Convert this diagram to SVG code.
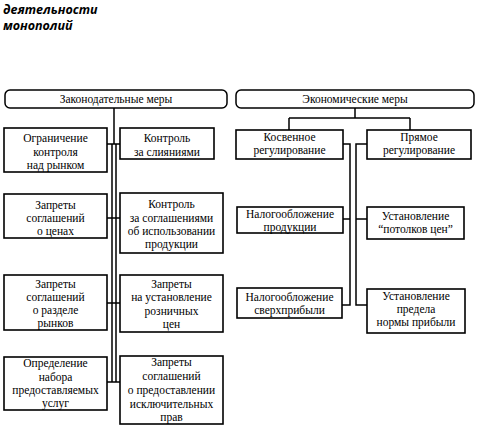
<svg xmlns="http://www.w3.org/2000/svg" width="479" height="426" viewBox="0 0 479 426">
<style>
.b{fill:#fff;stroke:#000;stroke-width:1.6}
.h{fill:#fff;stroke:#000;stroke-width:1.5}
.c{fill:none;stroke:#000;stroke-width:1.5}
.t{font-weight:bold;font-style:italic;fill:#000}
</style>
<rect width="479" height="426" fill="#fff"/>
<g id="title" font-family="'Open Sans', 'DejaVu Sans', sans-serif" font-size="12.5">
<text class="t" x="3" y="14">деятельности</text>
<text class="t" x="3" y="30">монополий</text>
</g>
<g id="connectors">
<path class="c" d="M114 108V144M112 144V382M116 144V382M107 144H120M107 218H120M107 303H120M107 382H120"/>
<path class="c" d="M355 108V118M289 118H410M289 118V130M410 118V130"/>
<path class="c" d="M343 144H350V305H342M350 219H343M367 144H356V305H367M356 219H367"/>
</g>
<g font-family="'Liberation Serif', 'Times New Roman', serif" font-size="11.5" text-anchor="middle" fill="#000">
<g id="h1"><rect class="h" x="5" y="90" width="222" height="18" rx="5"/><text x="116" y="103">Законодательные меры</text></g>
<g id="h2"><rect class="h" x="236" y="90" width="238" height="18" rx="5"/><text x="355" y="103">Экономические меры</text></g>
<g id="n1"><rect class="b" x="4" y="128" width="103" height="44"/><text x="55.5" y="142">Ограничение</text><text x="55.5" y="156">контроля</text><text x="55.5" y="169">над рынком</text></g>
<g id="n2"><rect class="b" x="120" y="128" width="94" height="31"/><text x="167" y="142">Контроль</text><text x="167" y="156">за слияниями</text></g>
<g id="n3"><rect class="b" x="4" y="194" width="103" height="44"/><text x="55.5" y="209">Запреты</text><text x="55.5" y="222">соглашений</text><text x="55.5" y="235">о ценах</text></g>
<g id="n4"><rect class="b" x="120" y="193" width="103" height="60"/><text x="171.5" y="208">Контроль</text><text x="171.5" y="221.5">за соглашениями</text><text x="171.5" y="235">об использовании</text><text x="171.5" y="248">продукции</text></g>
<g id="n5"><rect class="b" x="4" y="275" width="103" height="55"/><text x="55.5" y="288">Запреты</text><text x="55.5" y="301">соглашений</text><text x="55.5" y="314">о разделе</text><text x="55.5" y="327">рынков</text></g>
<g id="n6"><rect class="b" x="120" y="275" width="103" height="57"/><text x="171.5" y="288">Запреты</text><text x="171.5" y="301">на установление</text><text x="171.5" y="314.5">розничных</text><text x="171.5" y="328">цен</text></g>
<g id="n7"><rect class="b" x="4" y="357" width="103" height="53"/><text x="55.5" y="367">Определение</text><text x="55.5" y="380.5">набора</text><text x="55.5" y="394">предоставляемых</text><text x="55.5" y="407">услуг</text></g>
<g id="n8"><rect class="b" x="120" y="356" width="103" height="68"/><text x="171.5" y="366">Запреты</text><text x="171.5" y="380">соглашений</text><text x="171.5" y="394">о предоставлении</text><text x="171.5" y="407.5">исключительных</text><text x="171.5" y="421">прав</text></g>
<g id="n9"><rect class="b" x="236" y="130" width="107" height="29"/><text x="289.5" y="141">Косвенное</text><text x="289.5" y="154">регулирование</text></g>
<g id="n10"><rect class="b" x="367" y="130" width="104" height="29"/><text x="419" y="141">Прямое</text><text x="419" y="154">регулирование</text></g>
<g id="n11"><rect class="b" x="237" y="207" width="106" height="26"/><text x="290" y="218">Налогообложение</text><text x="290" y="231">продукции</text></g>
<g id="n12"><rect class="b" x="367" y="207" width="97" height="32"/><text x="415.5" y="220">Установление</text><text x="415.5" y="233">“потолков цен”</text></g>
<g id="n13"><rect class="b" x="237" y="288" width="105" height="30"/><text x="289.5" y="300.5">Налогообложение</text><text x="289.5" y="313.5">сверхприбыли</text></g>
<g id="n14"><rect class="b" x="367" y="289" width="98" height="44"/><text x="416" y="300">Установление</text><text x="416" y="313">предела</text><text x="416" y="326">нормы прибыли</text></g>
</g>
</svg>
